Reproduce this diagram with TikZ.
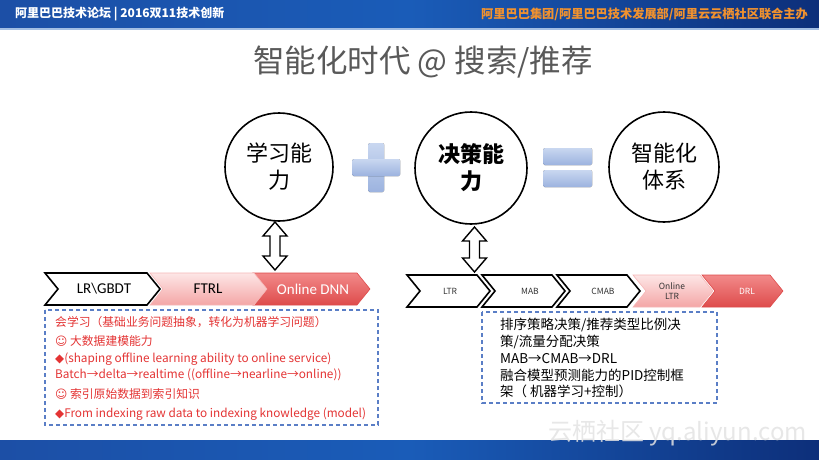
\documentclass[tikz,border=0pt]{standalone}
\usepackage{fontspec}
\setmainfont{Noto Sans CJK SC}
\newfontfamily\calib{Carlito}
\newfontfamily\dejavu{DejaVu Sans}
\usetikzlibrary{calc}
\definecolor{hdrL}{HTML}{1C4FA6}
\definecolor{hdrM}{HTML}{1A5CB8}
\definecolor{hdrR}{HTML}{0D2F7A}
\definecolor{orangeT}{HTML}{F2922E}
\definecolor{titleG}{HTML}{595959}
\definecolor{redT}{HTML}{E43434}
\definecolor{dashB}{HTML}{5A7EC6}
\definecolor{pinkA}{HTML}{FDE6E6}
\definecolor{pinkB}{HTML}{F4A6A6}
\definecolor{redA}{HTML}{F28A8A}
\definecolor{redB}{HTML}{DE4B4B}
\definecolor{plusA}{HTML}{C9D7F0}
\definecolor{plusB}{HTML}{9CB3DF}
\newcommand\mychev[6]{\path[#6] (#1,#3) -- ({#2-#5},#3) -- (#2,{(#3+#4)/2}) -- ({#2-#5},#4) -- (#1,#4) -- ({#1+#5},{(#3+#4)/2}) -- cycle;}
\begin{document}
\begin{tikzpicture}[x=1pt,y=-1pt,
  circ/.style={circle,draw=black,line width=1.6pt,fill=white,minimum size=#1,inner sep=0pt,font=\fontsize{22}{27}\selectfont,align=center},
  whitechev/.style={draw=black,line width=1.6pt,fill=white},
  pinkchev/.style={draw=pinkB!80!white,line width=0.6pt,top color=pinkA,bottom color=pinkB},
  redchev/.style={draw=redB,line width=0.6pt,top color=redA,bottom color=redB},
  bigtxt/.style={font=\calib\fontsize{15}{17}\selectfont,inner sep=0pt},
  smalltxt/.style={font=\fontsize{8.5}{10.5}\selectfont,inner sep=0pt,text=black!80,align=center},
  dbox/.style={draw=dashB,line width=1.4pt,dash pattern=on 4pt off 3pt},
  redline/.style={font=\fontsize{11.8}{13}\selectfont,text=redT,anchor=west,inner sep=0pt},
  darr/.style={draw=black,line width=1.4pt,fill=white,line join=miter}
]
\useasboundingbox (0,0) rectangle (819,460);
\fill[white] (0,0) rectangle (819,460);
% top band
\shade[left color=hdrL,right color=hdrR,middle color=hdrM] (0,0) rectangle (819,29);
\fill[hdrM!40!white] (0,28.5) rectangle (819,30);
\node[anchor=west,inner sep=0pt,text=white,font=\bfseries\fontsize{12}{14}\selectfont] (hdrl) at (15,14) {阿里巴巴技术论坛 | 2016双11技术创新};
\node[anchor=east,inner sep=0pt,text=orangeT,font=\bfseries\fontsize{12.2}{14}\selectfont] (hdrr) at (808,14) {阿里巴巴集团/阿里巴巴技术发展部/阿里云云栖社区联合主办};
% bottom band
\shade[left color=hdrL,right color=hdrR,middle color=hdrM] (0,440) rectangle (819,460);
% title
\node[text=titleG,font=\fontsize{31.5}{35}\selectfont,inner sep=0pt] (title) at (423,62) {智能化时代 @ 搜索/推荐};
% circles
\node[circ=108pt] (c1) at (279,167) {学习能\\力};
\node[circ=112pt,font=\bfseries\fontsize{22}{27}\selectfont] (c2) at (471,168) {决策能\\力};
\node[circ=110pt] (c3) at (664,167) {智能化\\体系};
% plus
\fill[top color=plusA,bottom color=plusB,rounded corners=1.5pt] (368,143) rectangle (384,192);
\fill[top color=plusA,bottom color=plusB,rounded corners=1.5pt] (352,159) rectangle (400,176);
% equals
\fill[top color=plusA,bottom color=plusB,rounded corners=1.5pt] (543,148) rectangle (592,165);
\fill[top color=plusA,bottom color=plusB,rounded corners=1.5pt] (543,170) rectangle (592,187);
% left chevrons
\mychev{253}{370}{273}{305}{13}{redchev}
\mychev{150}{267}{273}{305}{13}{pinkchev}
\mychev{45}{160}{273}{305}{13}{whitechev}
\node[bigtxt] (lr) at (104,289) {LR\textbackslash GBDT};
\node[bigtxt] (ftrl) at (208,289) {FTRL};
\node[bigtxt,text=white] (dnn) at (313,289) {Online DNN};
% right chevrons
\mychev{702}{783}{275}{307}{13}{redchev}
\mychev{633}{713}{275}{307}{13}{pinkchev}
\mychev{557}{640}{275}{307}{13}{whitechev}
\mychev{482}{565}{275}{307}{13}{whitechev}
\mychev{407}{490}{275}{307}{13}{whitechev}
\node[smalltxt] (ltr) at (450,291) {LTR};
\node[smalltxt] (mab) at (530,291) {MAB};
\node[smalltxt] (cmab) at (603,291) {CMAB};
\node[smalltxt] (oltr) at (672,291) {Online\\LTR};
\node[smalltxt,text=white] (drl) at (747,291) {DRL};
% double arrows
\coordinate (a1top) at (275,222);
\coordinate (a1bot) at (275,270);
\coordinate (a2top) at (474.5,227);
\coordinate (a2bot) at (474.5,272);
\foreach \t/\b in {a1top/a1bot,a2top/a2bot}{
\draw[darr] let \p1=(\t), \p2=(\b) in (\x1,\y1) -- (\x1+12pt,\y1-14pt) -- (\x1+5pt,\y1-14pt) -- (\x1+5pt,\y2+14pt) -- (\x1+12pt,\y2+14pt) -- (\x1,\y2) -- (\x1-12pt,\y2+14pt) -- (\x1-5pt,\y2+14pt) -- (\x1-5pt,\y1-14pt) -- (\x1-12pt,\y1-14pt) -- cycle;
}
% left dashed box
\draw[dbox] (45,310) rectangle (378,425);
\node[redline] (l1) at (55,322) {会学习（基础业务问题抽象，转化为机器学习问题）};
\node[redline] (l2) at (55,341) {{\dejavu ☺} 大数据建模能力};
\node[redline] (l3) at (55,359) {{\dejavu ◆}(shaping offline learning ability to online service)};
\node[redline] (l4) at (55,375) {Batch→delta→realtime ((offline→nearline→online))};
\node[redline] (l5) at (55,394) {{\dejavu ☺} 索引原始数据到索引知识};
\node[redline] (l6) at (55,414) {{\dejavu ◆}From indexing raw data to indexing knowledge (model)};
% right dashed box
\draw[dbox] (482,312) rectangle (717,403);
\node[anchor=north west,inner sep=0pt,align=left,font=\fontsize{13.5}{16.8}\selectfont] (rtxt) at (500,318) {排序策略决策/推荐类型比例决\\策/流量分配决策\\MAB→CMAB→DRL\\融合模型预测能力的PID控制框\\架（ 机器学习+控制）};
% watermark
\node[text=gray!22,font=\fontsize{24}{26}\selectfont,inner sep=0pt,anchor=east,opacity=0.85] (wm) at (807,433) {云栖社区 yq.aliyun.com};
\end{tikzpicture}
\end{document}
